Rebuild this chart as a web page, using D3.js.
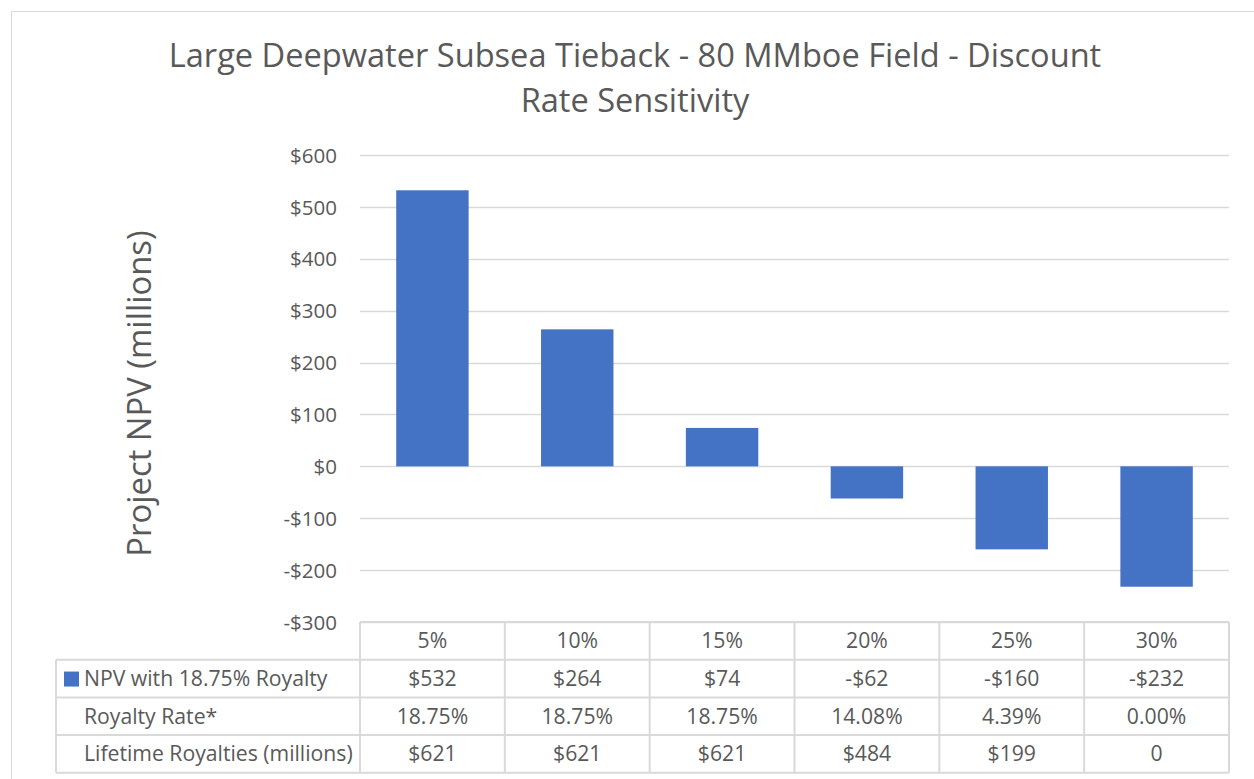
<!DOCTYPE html>
<html>
<head>
<meta charset="utf-8">
<script src="https://cdn.jsdelivr.net/npm/d3@7"></script>
<style>
  body { margin: 0; background: #fff; }
  svg { display: block; font-family: "Open Sans", sans-serif; }
</style>
</head>
<body>
<div id="chart"></div>
<script>
const categories = ["5%", "10%", "15%", "20%", "25%", "30%"];
const npv = [532, 264, 74, -62, -160, -232];
const npvLabels = ["$532", "$264", "$74", "-$62", "-$160", "-$232"];
const royaltyRate = ["18.75%", "18.75%", "18.75%", "14.08%", "4.39%", "0.00%"];
const lifetimeRoyalties = ["$621", "$621", "$621", "$484", "$199", "0"];
const yTicks = [600, 500, 400, 300, 200, 100, 0, -100, -200, -300];
const seriesName = "NPV with 18.75% Royalty";
const titleLines = ["Large Deepwater Subsea Tieback - 80 MMboe Field - Discount", "Rate Sensitivity"];
const yTitle = "Project NPV (millions)";

const width = 1254;
const height = 779;
const plot = { left: 360, right: 1229, top: 155, bottom: 622 };
const table = { left: 56, rowH: 37.7 };
const textColor = "#595959";
const gridColor = "#d9d9d9";
const barColor = "#4472c4";
const tableFont = 21.2;

const svg = d3.select("#chart")
  .append("svg")
  .attr("width", width)
  .attr("height", height);

// outer chart border
svg.append("rect")
  .attr("x", 11.5).attr("y", 11.5)
  .attr("width", width + 20).attr("height", height + 20)
  .attr("fill", "#fff")
  .attr("stroke", gridColor);

// title
svg.append("g")
  .selectAll("text")
  .data(titleLines)
  .enter()
  .append("text")
  .attr("x", 635)
  .attr("y", (d, i) => 67 + i * 45)
  .attr("text-anchor", "middle")
  .attr("font-size", 32.6)
  .attr("fill", textColor)
  .text((d) => d);

const x = d3.scaleBand()
  .domain(categories)
  .range([plot.left, plot.right])
  .paddingInner(0.5)
  .paddingOuter(0.25);

const y = d3.scaleLinear()
  .domain([-300, 600])
  .range([plot.bottom, plot.top]);

// gridlines
svg.append("g")
  .selectAll("line")
  .data(yTicks)
  .enter()
  .append("line")
  .attr("x1", plot.left)
  .attr("x2", plot.right)
  .attr("y1", (d) => Math.round(y(d)) + 0.5)
  .attr("y2", (d) => Math.round(y(d)) + 0.5)
  .attr("stroke", gridColor)
  .attr("stroke-width", 1.3);

// y axis labels
const yAxis = d3.axisLeft(y)
  .tickValues(yTicks)
  .tickSize(0)
  .tickPadding(0)
  .tickFormat((d) => (d < 0 ? "-$" + Math.abs(d) : "$" + d));

const yAxisG = svg.append("g")
  .attr("transform", `translate(337,0)`)
  .call(yAxis);
yAxisG.select(".domain").remove();
yAxisG.selectAll("text")
  .attr("font-family", "Open Sans, sans-serif")
  .attr("font-size", 20.5)
  .attr("fill", textColor)
  .attr("dy", "0.35em");

// y axis title
svg.append("text")
  .attr("transform", `translate(151, ${(plot.top + plot.bottom) / 2 + 5}) rotate(-90)`)
  .attr("text-anchor", "middle")
  .attr("font-size", 32.8)
  .attr("fill", textColor)
  .text(yTitle);

// bars
svg.append("g")
  .selectAll("rect")
  .data(npv)
  .enter()
  .append("rect")
  .attr("x", (d, i) => x(categories[i]))
  .attr("width", x.bandwidth())
  .attr("y", (d) => y(Math.max(0, d)))
  .attr("height", (d) => Math.abs(y(d) - y(0)))
  .attr("fill", barColor);

// data table
const step = x.step();
const colLeft = (i) => plot.left + i * step;
const tableTop = plot.bottom;
const rows = [
  { label: seriesName, values: npvLabels, key: true },
  { label: "Royalty Rate*", values: royaltyRate },
  { label: "Lifetime Royalties (millions)", values: lifetimeRoyalties }
];
const tbl = svg.append("g");
const lineStyle = (sel) => sel.attr("stroke", gridColor).attr("stroke-width", 2);

// header row
tbl.selectAll(".hdr")
  .data(categories)
  .enter()
  .append("text")
  .attr("class", "hdr")
  .attr("x", (d, i) => colLeft(i) + step / 2)
  .attr("y", tableTop + table.rowH / 2)
  .attr("dy", "0.35em")
  .attr("text-anchor", "middle")
  .attr("font-size", tableFont)
  .attr("fill", textColor)
  .text((d) => d);

const tableBottom = tableTop + table.rowH * (rows.length + 1);

// horizontal lines
tbl.append("line").call(lineStyle)
  .attr("x1", plot.left).attr("x2", plot.right)
  .attr("y1", tableTop).attr("y2", tableTop);
d3.range(1, rows.length + 2).forEach((r) => {
  tbl.append("line").call(lineStyle)
    .attr("x1", table.left).attr("x2", plot.right)
    .attr("y1", tableTop + r * table.rowH).attr("y2", tableTop + r * table.rowH);
});
// vertical lines
d3.range(0, categories.length + 1).forEach((c) => {
  tbl.append("line").call(lineStyle)
    .attr("x1", colLeft(c)).attr("x2", colLeft(c))
    .attr("y1", tableTop).attr("y2", tableBottom);
});
tbl.append("line").call(lineStyle)
  .attr("x1", table.left).attr("x2", table.left)
  .attr("y1", tableTop + table.rowH).attr("y2", tableBottom);

rows.forEach((row, r) => {
  const cy = tableTop + (r + 1.5) * table.rowH;
  if (row.key) {
    tbl.append("rect")
      .attr("x", 64).attr("y", cy - 7)
      .attr("width", 15).attr("height", 15)
      .attr("fill", barColor);
  }
  tbl.append("text")
    .attr("x", 84)
    .attr("y", cy)
    .attr("dy", "0.35em")
    .attr("font-size", tableFont)
    .attr("fill", textColor)
    .text(row.label);
  tbl.selectAll(null)
    .data(row.values)
    .enter()
    .append("text")
    .attr("x", (d, i) => colLeft(i) + step / 2)
    .attr("y", cy)
    .attr("dy", "0.35em")
    .attr("text-anchor", "middle")
    .attr("font-size", tableFont)
    .attr("fill", textColor)
    .text((d) => d);
});
</script>
</body>
</html>
